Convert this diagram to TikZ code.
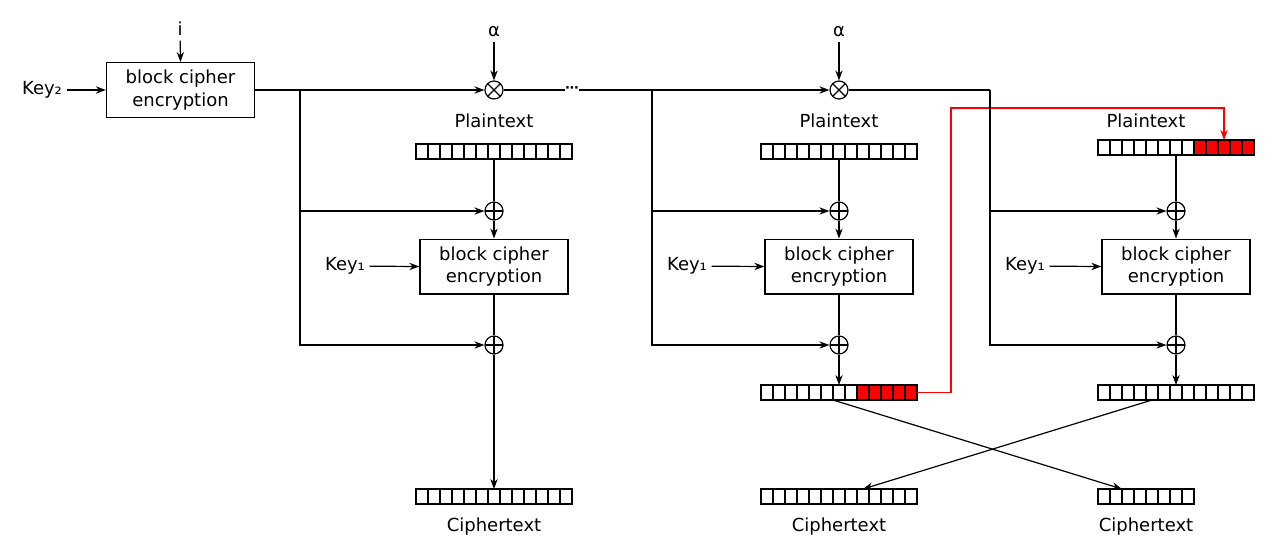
\documentclass[tikz,border=0pt]{standalone}
\usepackage{fontspec}
\setmainfont{DejaVu Sans}
\usetikzlibrary{arrows.meta}

\begin{document}
\begin{tikzpicture}
		[x=0.75pt, y=-0.75pt,
		font=\fontsize{13.5pt}{17pt}\selectfont,
		block/.style ={rectangle, draw=black, line width=1pt, align=center, minimum width=111pt, minimum height=41pt},
		cell/.style ={rectangle, draw=black, line width=0.9pt, minimum width=9pt, minimum height=11.25pt, inner sep=0pt, outer sep=0pt},
		hot/.style ={cell, fill=red},
		xorop/.style ={circle, draw, line width=0.9pt, minimum size=13.5pt, inner sep=0pt,
		path picture={\draw[line width=0.9pt] (path picture bounding box.north) -- (path picture bounding box.south)
		(path picture bounding box.west) -- (path picture bounding box.east);}},
		mulop/.style ={circle, draw, line width=0.9pt, minimum size=13.5pt, inner sep=0pt,
		path picture={\draw[line width=0.9pt] (path picture bounding box.north west) -- (path picture bounding box.south east)
		(path picture bounding box.north east) -- (path picture bounding box.south west);}},
		line/.style ={draw, line width=0.9pt},
		arr/.style ={line, -{Stealth[length=7.5pt,width=5.5pt]}}]
		\useasboundingbox (0,0) rectangle (1280,558);

		% tweak block
		\node[block] (E) at (180.5,90) {block cipher\\encryption};
		\node (I) at (180,29) {i};
		\node (K2) at (42,90) {Key₂};
		\draw[arr] (I) -- (E.north);
		\draw[arr] (K2) -- (E.west);

		% multipliers
		\node (A1) at (494,32) {α};
		\node (A2) at (839,32) {α};
		\node[mulop] (M1) at (494,90) {};
		\node[mulop] (M2) at (839,90) {};
		\node[inner sep=0pt] (D) at (572,90) {\fontsize{10pt}{10pt}\selectfont\bfseries ⋯};
		\draw[arr] (A1) -- (M1.north);
		\draw[arr] (A2) -- (M2.north);

		% first column
		\node (P1) at (494,121) {Plaintext};
		\foreach \i in {0,...,12}
			\node[cell] (p1-\i) at ({422+\i*12},151.5) {};
		\node[xorop] (X1a) at (494,211) {};
		\node[block] (B1) at (494,266.5) {block cipher\\encryption};
		\node (K1a) at (345,266) {Key₁};
		\node[xorop] (X1b) at (494,345) {};
		\foreach \i in {0,...,12}
			\node[cell] (c1-\i) at ({422+\i*12},496.5) {};
		\node (C1) at (494,526.5) {Ciphertext};

		% second column
		\node (P2) at (839,121) {Plaintext};
		\foreach \i in {0,...,12}
			\node[cell] (p2-\i) at ({767+\i*12},151.5) {};
		\node[xorop] (X2a) at (839,211) {};
		\node[block] (B2) at (839,266.5) {block cipher\\encryption};
		\node (K1b) at (687,266) {Key₁};
		\node[xorop] (X2b) at (839,345) {};
		\foreach \i in {0,...,7}
			\node[cell] (m2-\i) at ({767+\i*12},392.5) {};
		\foreach \i in {8,...,12}
			\node[hot] (m2-\i) at ({767+\i*12},392.5) {};
		\foreach \i in {0,...,12}
			\node[cell] (c2-\i) at ({767+\i*12},496.5) {};
		\node (C2) at (839,526.5) {Ciphertext};

		% third column
		\node (P3) at (1146,121) {Plaintext};
		\foreach \i in {0,...,7}
			\node[cell] (p3-\i) at ({1104+\i*12},147.5) {};
		\foreach \i in {8,...,12}
			\node[hot] (p3-\i) at ({1104+\i*12},147.5) {};
		\node[xorop] (X3a) at (1176,211) {};
		\node[block] (B3) at (1176,266.5) {block cipher\\encryption};
		\node (K1c) at (1025,266) {Key₁};
		\node[xorop] (X3b) at (1176,345) {};
		\foreach \i in {0,...,12}
			\node[cell] (m3-\i) at ({1104+\i*12},392.5) {};
		\foreach \i in {0,...,7}
			\node[cell] (c3-\i) at ({1104+\i*12},496.5) {};
		\node (C3) at (1146,526.5) {Ciphertext};

		% junctions
		\coordinate (J1) at (300,90);
		\coordinate (J2) at (652,90);
		\coordinate (J3) at (990,90);
		\coordinate (R1) at (951,108);

		% carried bits
		\draw[arr, red, line width=0.8pt] (m2-12.east) -| (R1) -| (p3-10.north);

		% mask line
		\draw[line] (E.east) -- (J1);
		\draw[arr] (J1) -- (M1.west);
		\draw[line] (M1.east) -- (D.west);
		\draw[arr] (D.east) -- (M2.west);
		\draw[line] (M2.east) -- (J3);
		\draw[arr] (J1) |- (X1a.west);
		\draw[arr] (J1) |- (X1b.west);
		\draw[arr] (J2) |- (X2a.west);
		\draw[arr] (J2) |- (X2b.west);
		\draw[arr] (J3) |- (X3a.west);
		\draw[arr] (J3) |- (X3b.west);

		% data paths
		\draw[line] (p1-6.south) -- (X1a.north);
		\draw[arr] (X1a.south) -- (B1.north);
		\draw[arr] (K1a) -- (B1.west);
		\draw[line] (B1.south) -- (X1b.north);
		\draw[arr] (X1b.south) -- (c1-6.north);

		\draw[line] (p2-6.south) -- (X2a.north);
		\draw[arr] (X2a.south) -- (B2.north);
		\draw[arr] (K1b) -- (B2.west);
		\draw[line] (B2.south) -- (X2b.north);
		\draw[arr] (X2b.south) -- (m2-6.north);

		\draw[line] (p3-6.south) -- (X3a.north);
		\draw[arr] (X3a.south) -- (B3.north);
		\draw[arr] (K1c) -- (B3.west);
		\draw[line] (B3.south) -- (X3b.north);
		\draw[arr] (X3b.south) -- (m3-6.north);

		% swap
		\draw[arr] (m2-6.south west) -- (c3-1.north east);
		\draw[arr] (m3-4.south) -- (c2-8.north);

	\end{tikzpicture}
\end{document}
